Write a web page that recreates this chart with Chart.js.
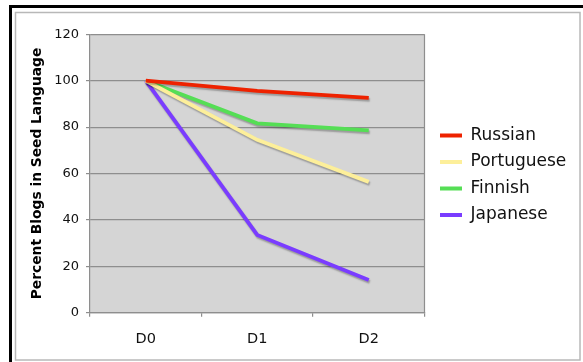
<!DOCTYPE html>
<html>
<head>
<meta charset="utf-8">
<script src="https://cdn.jsdelivr.net/npm/chart.js@4/dist/chart.umd.min.js"></script>
<style>
html,body{margin:0;padding:0;background:#fff;}
#c{display:block;}
</style>
</head>
<body>
<canvas id="c" width="583" height="362"></canvas>
<script>
const categories = ['D0', 'D1', 'D2'];
const russian = [100, 95.6, 92.6];
const portuguese = [100, 74.5, 56.4];
const finnish = [100, 81.6, 78.6];
const japanese = [100, 33.5, 14.1];
const yTicks = [0, 20, 40, 60, 80, 100, 120];
const yTitle = 'Percent Blogs in Seed Language';

const FONT = '"DejaVu Sans", Verdana, sans-serif';

const framePlugin = {
  id: 'frame',
  beforeDraw(chart) {
    const ctx = chart.ctx;
    ctx.save();
    ctx.fillStyle = '#fff';
    ctx.fillRect(0, 0, chart.width, chart.height);
    // outer black frame (top + left)
    ctx.fillStyle = '#000';
    ctx.fillRect(9, 5, chart.width - 9, 3);
    ctx.fillRect(9, 5, 3, chart.height - 5);
    // inner gray frame
    ctx.strokeStyle = '#b8b8b8';
    ctx.lineWidth = 1.5;
    ctx.strokeRect(15.5, 12.5, 564.5, 347.5);
    // plot background
    const a = chart.chartArea;
    ctx.fillStyle = '#d5d5d5';
    ctx.fillRect(a.left, a.top, a.right - a.left, a.bottom - a.top);
    ctx.restore();
    // position legend
    const lg = chart.legend;
    if (lg) {
      const pad = lg.options.labels.padding;
      const w = lg.width, h = lg.height;
      lg.left = 440 - pad;
      lg.top = 127 - pad;
      lg.right = lg.left + w;
      lg.bottom = lg.top + h;
    }
  },
  afterDraw(chart) {
    const a = chart.chartArea;
    const ctx = chart.ctx;
    ctx.save();
    ctx.strokeStyle = '#8e8e8e';
    ctx.lineWidth = 1.2;
    ctx.beginPath();
    ctx.moveTo(a.right, a.top);
    ctx.lineTo(a.right, a.bottom);
    ctx.stroke();
    ctx.restore();
  },
  beforeDatasetDraw(chart) {
    const ctx = chart.ctx;
    ctx.save();
    ctx.shadowColor = 'rgba(0,0,0,0.28)';
    ctx.shadowOffsetX = 1;
    ctx.shadowOffsetY = 2;
    ctx.shadowBlur = 1.5;
  },
  afterDatasetDraw(chart) {
    chart.ctx.restore();
  }
};

const mk = (label, data, color) => ({
  label, data,
  borderColor: color, backgroundColor: color,
  borderWidth: 3.8, pointRadius: 0, tension: 0, fill: false
});

new Chart(document.getElementById('c'), {
  type: 'line',
  data: {
    labels: categories,
    datasets: [
      mk('Russian', russian, '#ee2200'),
      mk('Portuguese', portuguese, '#fdef9a'),
      mk('Finnish', finnish, '#55de55'),
      mk('Japanese', japanese, '#7a3cff')
    ]
  },
  plugins: [framePlugin],
  options: {
    responsive: false,
    animation: false,
    events: [],
    layout: { padding: { top: 34.3, right: 158.5, left: 0, bottom: 0 } },
    plugins: {
      tooltip: { enabled: false },
      legend: {
        position: 'chartArea',
        align: 'start',
        labels: {
          font: { family: FONT, size: 17 },
          color: '#111',
          boxWidth: 22,
          boxHeight: 4,
          padding: 9.5,
          generateLabels(chart) {
            return chart.data.datasets.map((d, i) => ({
              text: d.label, fillStyle: d.borderColor, strokeStyle: d.borderColor,
              lineWidth: 0, hidden: false, datasetIndex: i, fontColor: '#111'
            }));
          }
        }
      }
    },
    scales: {
      x: {
        type: 'category',
        offset: true,
        grid: { offset: true, drawOnChartArea: false, color: '#8e8e8e', tickLength: 4, lineWidth: 1.2 },
        border: { color: '#8e8e8e', width: 1.2 },
        ticks: { font: { family: FONT, size: 14.5 }, color: '#111', padding: 14 },
        afterFit(s) { s.height = 362 - 312.7; }
      },
      y: {
        min: 0, max: 120,
        afterBuildTicks(s) { s.ticks = yTicks.map(v => ({ value: v })); },
        grid: { color: '#8e8e8e', tickLength: 4, lineWidth: 1.2 },
        border: { color: '#8e8e8e', width: 1.2 },
        ticks: { font: { family: FONT, size: 13 }, color: '#111', padding: 7 },
        title: {
          display: true, text: yTitle,
          font: { family: FONT, size: 13.8, weight: 'bold' }, color: '#000',
          padding: { top: 29, bottom: 0 }
        },
        afterFit(s) { s.width = 90; }
      }
    }
  }
});
</script>
</body>
</html>
